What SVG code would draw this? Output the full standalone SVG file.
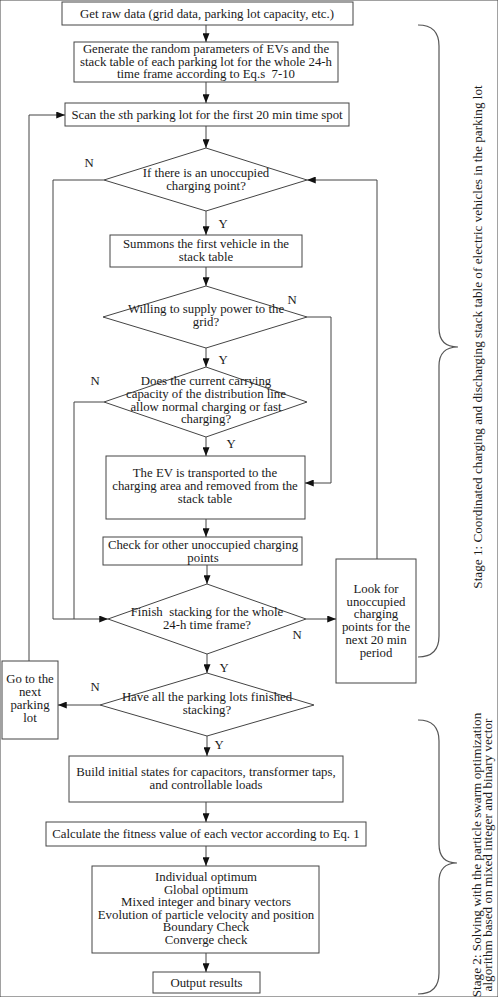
<svg xmlns="http://www.w3.org/2000/svg" width="498" height="997" viewBox="0 0 498 997">
<defs>
<marker id="ah" viewBox="0 0 10 8" refX="10" refY="4" markerWidth="9" markerHeight="7" markerUnits="userSpaceOnUse" orient="auto">
<path d="M0,0 L10,4 L0,8 z" fill="#111"/>
</marker>
<style>
rect,polygon{fill:#fff;stroke:#444;stroke-width:1}
.c path,.c line{fill:none;stroke:#444;stroke-width:1}
.a{marker-end:url(#ah)}
text{font-family:"Liberation Serif","Times New Roman",serif;font-size:12.8px;fill:#1a1a1a;text-anchor:middle}
.brace{fill:none;stroke:#555;stroke-width:1.2}
.side{font-size:13.2px}
</style>
</defs>
<rect width="498" height="997" fill="#fff" stroke="none"/>

<g id="n1"><rect x="62" y="2" width="291" height="23"/><text x="207" y="18">Get raw data (grid data, parking lot capacity, etc.)</text></g>
<g id="n2"><rect x="74" y="42" width="264" height="40"/><text x="206" y="53">Generate the random parameters of EVs and the</text><text x="206" y="65.5">stack table of each parking lot for the whole 24-h</text><text x="206" y="78" style="white-space:pre">time frame according to Eq.s  7-10</text></g>
<g id="n3"><rect x="65" y="103" width="284" height="23"/><text x="207" y="119">Scan the <tspan font-style="italic">s</tspan>th parking lot for the first 20 min time spot</text></g>
<g id="d1"><polygon points="206,148 307,180 206,211 104,180"/><text x="206" y="176.5">If there is an unoccupied</text><text x="206" y="189.5">charging point?</text></g>
<g id="n4"><rect x="110" y="235" width="192" height="32"/><text x="206" y="247.5">Summons the first vehicle in the</text><text x="206" y="260.5">stack table</text></g>
<g id="d2"><polygon points="206,286 307,317 206,348 103,317"/><text x="206" y="313">Willing to supply power to the</text><text x="206" y="326">grid?</text></g>
<g id="d3"><polygon points="206,367 307,402 206,437 104,402"/><text x="206" y="385">Does the current carrying</text><text x="206" y="398">capacity of the distribution line</text><text x="206" y="410.7">allow normal charging or fast</text><text x="206" y="423.3">charging?</text></g>
<g id="n5"><rect x="106" y="456" width="199" height="63"/><text x="205" y="477">The EV is transported to the</text><text x="205" y="490">charging area and removed from the</text><text x="205" y="503.3">stack table</text></g>
<g id="n6"><rect x="103" y="537" width="199" height="28"/><text x="203" y="548.5">Check for other unoccupied charging</text><text x="203" y="561.5">points</text></g>
<g id="d4"><polygon points="207,584 306,619 207,654 108,619"/><text x="207" y="615.5" style="white-space:pre">Finish  stacking for the whole</text><text x="207" y="628.5">24-h time frame?</text></g>
<g id="n7"><rect x="336" y="559" width="80" height="124"/><text x="376" y="592.7">Look for</text><text x="376" y="605.5">unoccupied</text><text x="376" y="618.3">charging</text><text x="376" y="631">points for the</text><text x="376" y="644">next 20 min</text><text x="376" y="656.5">period</text></g>
<g id="d5"><polygon points="207,673 314,705 207,736 100,705"/><text x="207" y="700.5">Have all the parking lots finished</text><text x="207" y="713.5">stacking?</text></g>
<g id="n8"><rect x="2" y="661" width="56" height="78"/><text x="30" y="683.3">Go to the</text><text x="30" y="696">next</text><text x="30" y="708.7">parking</text><text x="30" y="721.5">lot</text></g>
<g id="n9"><rect x="69" y="756" width="274" height="46"/><text x="206" y="776">Build initial states for capacitors, transformer taps,</text><text x="206" y="788.5">and controllable loads</text></g>
<g id="n10"><rect x="46" y="822" width="320" height="24"/><text x="206" y="837.5">Calculate the fitness value of each vector according to Eq. 1</text></g>
<g id="n11"><rect x="92" y="866" width="227" height="87"/><text x="206" y="881">Individual optimum</text><text x="206" y="893.5">Global optimum</text><text x="206" y="906">Mixed integer and binary vectors</text><text x="206" y="918.7">Evolution of particle velocity and position</text><text x="206" y="931.3">Boundary Check</text><text x="206" y="944">Converge check</text></g>
<g id="n12"><rect x="153" y="972" width="107" height="21"/><text x="206.5" y="986.5">Output results</text></g>

<g id="connectors" class="c">
<line class="a" x1="206" y1="25" x2="206" y2="42"/>
<line class="a" x1="206" y1="82" x2="206" y2="103"/>
<line class="a" x1="206" y1="126" x2="206" y2="148"/>
<line class="a" x1="206" y1="211" x2="206" y2="235"/>
<line class="a" x1="206" y1="267" x2="206" y2="286"/>
<line class="a" x1="206" y1="348" x2="206" y2="367"/>
<line class="a" x1="206" y1="437" x2="206" y2="456"/>
<line class="a" x1="206" y1="519" x2="206" y2="537"/>
<line class="a" x1="207" y1="565" x2="207" y2="584"/>
<line class="a" x1="207" y1="654" x2="207" y2="673"/>
<line class="a" x1="207" y1="736" x2="207" y2="756"/>
<line class="a" x1="206" y1="802" x2="206" y2="822"/>
<line class="a" x1="206" y1="846" x2="206" y2="866"/>
<line class="a" x1="206" y1="953" x2="206" y2="972"/>
<path class="a" d="M307,317 H331 V483 H305"/>
<path class="a" d="M104,180 H53 V619 H108"/>
<path d="M104,402 H74 V619"/>
<line class="a" x1="306" y1="619" x2="336" y2="619"/>
<path class="a" d="M377,559 V180 H307"/>
<line class="a" x1="100" y1="705" x2="58" y2="705"/>
<path class="a" d="M29,661 V115 H65"/>
</g>

<g id="labels">
<text x="89" y="167">N</text>
<text x="223" y="228">Y</text>
<text x="292" y="304">N</text>
<text x="223" y="364">Y</text>
<text x="95" y="385">N</text>
<text x="231" y="448">Y</text>
<text x="297" y="639">N</text>
<text x="224" y="672">Y</text>
<text x="95" y="691">N</text>
<text x="219" y="749">Y</text>
</g>

<g id="stage1">
<path class="brace" d="M418,25 Q439,25 439,46 L439,328 Q439,347 458,347 Q439,347 439,366 L439,636 Q439,657 418,657"/>
<text class="side" transform="translate(481.5,337) rotate(-90)">Stage 1: Coordinated charging and discharging stack table of electric vehicles in the parking lot</text>
</g>
<g id="stage2">
<path class="brace" d="M418,720 Q439,720 439,741 L439,844 Q439,863 457,863 Q439,863 439,882 L439,973 Q439,994 418,994"/>
<text class="side" transform="translate(481,855) rotate(-90)">Stage 2: Solving with the particle swarm optimization</text>
<text class="side" transform="translate(492,855) rotate(-90)">algorithm based on mixed integer and binary vector</text>
</g>
</svg>
